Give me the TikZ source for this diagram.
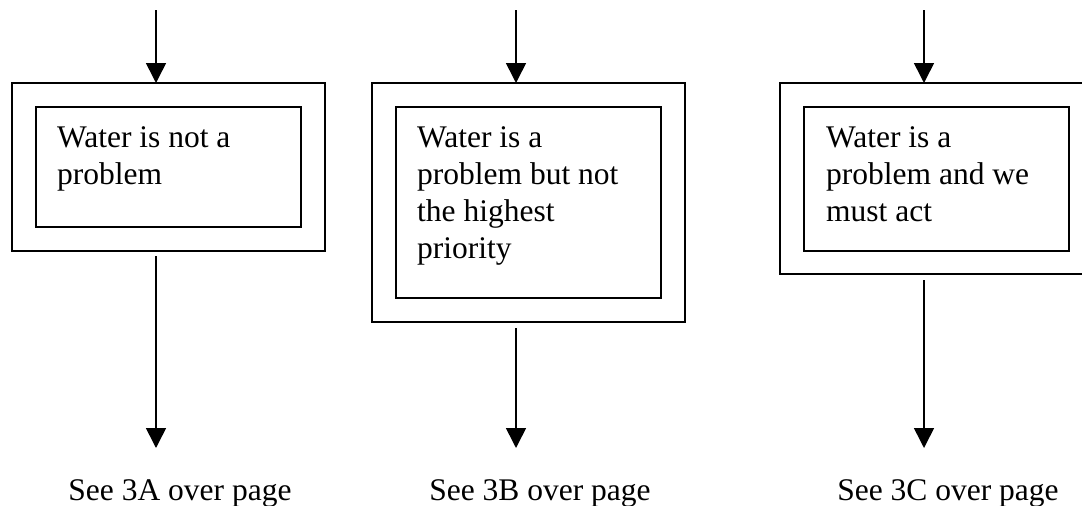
\documentclass[tikz,border=0pt]{standalone}
\usepackage{fontspec}
\setmainfont{Liberation Serif}
\usetikzlibrary{arrows.meta,calc}

\tikzset{
  frame/.style={draw, rectangle, line width=1.6pt, inner sep=0pt, outer sep=0pt},
  outerbox/.style={frame, minimum width=313pt},
  innerbox/.style={frame, minimum width=265pt},
  % multi-line text is anchored at the baseline of its last line
  boxtext/.style={anchor=base west, align=left, inner sep=0pt,
                  font=\fontsize{31.5}{37}\selectfont},
  caption/.style={anchor=base, inner sep=0pt, font=\fontsize{31.5}{37}\selectfont},
  flow/.style={line width=1.6pt, -{Triangle[width=20pt,length=20pt]}}
}

\begin{document}
\begin{tikzpicture}[x=1pt,y=-1pt]
  \clip (0,0) rectangle (1082,506);

  % outer and inner frames of the three outcomes
  \node[outerbox, minimum height=168pt] (o1) at (168.5,167) {};
  \node[innerbox, minimum height=120pt] (i1) at (168.5,167) {};
  \node[outerbox, minimum height=239pt] (o2) at (528.5,202.5) {};
  \node[innerbox, minimum height=191pt] (i2) at (528.5,202.5) {};
  \node[outerbox, minimum height=191pt] (o3) at (936.5,178.5) {};
  \node[innerbox, minimum height=144pt] (i3) at (936.5,179) {};

  % statements inside the frames
  \node[boxtext] (s1) at (57,184) {Water is not a\\problem};
  \node[boxtext] (s2) at (417,258) {Water is a\\problem but not\\the highest\\priority};
  \node[boxtext] (s3) at (826,221) {Water is a\\problem and we\\must act};

  % references to the next page
  \node[caption] (c1) at (180,500) {See 3A over page};
  \node[caption] (c2) at (540,500) {See 3B over page};
  \node[caption] (c3) at (948,500) {See 3C over page};

  % incoming arrows
  \coordinate (t1) at (156,10);
  \coordinate (t2) at (516,10);
  \coordinate (t3) at (924,10);
  \draw[flow] (t1) -- (t1 |- o1.north);
  \draw[flow] (t2) -- (t2 |- o2.north);
  \draw[flow] (t3) -- (t3 |- o3.north);

  % outgoing arrows
  \coordinate (e1) at (156,448);
  \coordinate (e2) at (516,448);
  \coordinate (e3) at (924,448);
  \draw[flow] ($(e1 |- o1.south)+(0,5)$) -- (e1);
  \draw[flow] ($(e2 |- o2.south)+(0,6)$) -- (e2);
  \draw[flow] ($(e3 |- o3.south)+(0,6)$) -- (e3);
\end{tikzpicture}
\end{document}
